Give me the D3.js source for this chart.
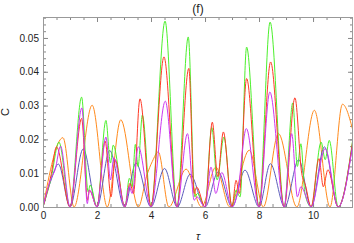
<!DOCTYPE html>
<html>
<head>
<meta charset="utf-8">
<script src="https://cdn.jsdelivr.net/npm/d3@7"></script>
<style>
  body { margin: 0; background: #fff; }
  svg { display: block; }
  text { font-family: "Liberation Sans", Arial, sans-serif; fill: #222; }
</style>
</head>
<body>
<svg width="354" height="243"></svg>
<script>
// Puntos: [tau, C]
const orange = [[0,0],[0.74,0.0205],[1.15,0],[1.82,0.0301],[2.38,0],[2.88,0.0258],[3.53,0],[3.85,0.0095],[4.05,0.0135],[4.27,0.0163],[4.66,0],[5.3,0.0112],[5.87,0],[6.4,0.0118],[6.92,0],[7.64,0.0168],[8.16,0],[8.72,0.0217],[9.4,0],[10.05,0.0286],[10.63,0],[11.09,0.0304],[11.48,0.0225]];
const blue = [[0,0],[0.3,0.008],[0.57,0.0127],[1.0,0],[1.49,0.0172],[2.0,0],[2.47,0.0167],[3.02,0],[3.44,0.013],[4.0,0],[4.5,0.0114],[4.97,0],[5.45,0.0097],[6.0,0],[6.49,0.0104],[7.0,0],[7.48,0.0109],[8.0,0],[8.42,0.0128],[8.95,0],[9.47,0.014],[9.93,0],[10.42,0.0178],[10.93,0],[11.48,0.0195]];
const green = [[0,0],[0.3,0.0085],[0.59,0.0192],[1.0,0],[1.43,0.0325],[1.67,0.0045],[1.75,0.0065],[2.0,0],[2.33,0.0256],[2.5,0.013],[2.6,0.0183],[3.03,0],[3.2,0.0085],[3.3,0.006],[3.42,0.0185],[3.52,0.012],[3.68,0.0272],[4.0,0],[4.52,0.055],[4.96,0],[5.38,0.0503],[5.62,0.003],[5.72,0.004],[6.0,0],[6.25,0.0235],[6.45,0.008],[6.7,0.0207],[7.0,0],[7.15,0.005],[7.3,0.003],[7.54,0.0473],[8.0,0],[8.41,0.0547],[8.93,0],[9.25,0.0308],[9.42,0.012],[9.55,0.0187],[9.7,0.004],[9.93,0],[10.3,0.0192],[10.45,0.014],[10.6,0.0197],[10.93,0],[11.48,0.0205]];
const red = [[0,0],[0.3,0.0095],[0.5,0.0178],[1.0,0],[1.43,0.0262],[1.65,0.002],[1.72,0.005],[2.0,0],[2.3,0.0195],[2.52,0.003],[2.67,0.014],[3.03,0],[3.22,0.007],[3.35,0.004],[3.59,0.032],[4.0,0],[4.48,0.0444],[4.96,0],[5.4,0.041],[5.6,0.004],[5.69,0.0059],[6.0,0],[6.27,0.0251],[6.47,0.009],[6.68,0.0222],[7.0,0],[7.15,0.0079],[7.27,0.004],[7.54,0.038],[8.0,0],[8.43,0.0429],[8.93,0],[9.33,0.0323],[9.58,0.01],[9.72,0.0064],[9.93,0],[10.22,0.0143],[10.38,0.006],[10.55,0.011],[10.93,0],[11.48,0.02]];
const magenta = [[0,0],[0.3,0.0085],[0.45,0.011],[0.65,0.018],[1.0,0],[1.44,0.0293],[1.64,0.001],[1.72,0.005],[2.0,0],[2.33,0.0207],[2.5,0.008],[2.62,0.0145],[3.03,0],[3.2,0.006],[3.3,0.004],[3.53,0.0178],[4.0,0],[4.53,0.0313],[4.96,0],[5.35,0.0217],[5.6,0.002],[5.7,0.003],[6.0,0],[6.22,0.0118],[6.4,0.004],[6.62,0.0102],[7.0,0],[7.2,0.004],[7.53,0.0232],[8.0,0],[8.4,0.034],[8.93,0],[9.21,0.0217],[9.42,0.003],[9.55,0.006],[9.93,0],[10.45,0.0173],[10.93,0],[11.48,0.019]];

const xMajor = [0, 2, 4, 6, 8, 10];
const yMajor = [0, 0.01, 0.02, 0.03, 0.04, 0.05];

const svg = d3.select("svg");
const mLeft = 43, mRight = 353, mTop = 17, mBottom = 207;

const x = d3.scaleLinear().domain([0, 11.48]).range([mLeft, mRight]);
const y = d3.scaleLinear().domain([0, 0.0562]).range([mBottom, mTop]);

// ticks (hacia adentro en los cuatro lados)
function styleAxis(g) {
  g.select(".domain").remove();
  g.selectAll("line").attr("stroke", "#888");
  g.selectAll("text").attr("font-size", 10).attr("fill", "#222");
}
const xMinor = d3.range(0, 11.5, 0.5);
const yMinor = d3.range(0, 0.0561, 0.002);

svg.append("g").attr("transform", `translate(0,${mBottom})`)
  .call(d3.axisBottom(x).tickValues(xMinor).tickSize(-3).tickFormat("")).call(styleAxis);
svg.append("g").attr("transform", `translate(0,${mBottom})`)
  .call(d3.axisBottom(x).tickValues(xMajor).tickSize(-5).tickPadding(5).tickFormat(d3.format("d"))).call(styleAxis);
svg.append("g").attr("transform", `translate(0,${mTop})`)
  .call(d3.axisTop(x).tickValues(xMinor).tickSize(-3).tickFormat("")).call(styleAxis);
svg.append("g").attr("transform", `translate(0,${mTop})`)
  .call(d3.axisTop(x).tickValues(xMajor).tickSize(-5).tickFormat("")).call(styleAxis);

svg.append("g").attr("transform", `translate(${mLeft},0)`)
  .call(d3.axisLeft(y).tickValues(yMinor).tickSize(-3).tickFormat("")).call(styleAxis);
svg.append("g").attr("transform", `translate(${mLeft},0)`)
  .call(d3.axisLeft(y).tickValues(yMajor).tickSize(-5).tickPadding(4).tickFormat(d3.format(".2f"))).call(styleAxis);
svg.append("g").attr("transform", `translate(${mRight},0)`)
  .call(d3.axisRight(y).tickValues(yMinor).tickSize(-3).tickFormat("")).call(styleAxis);
svg.append("g").attr("transform", `translate(${mRight},0)`)
  .call(d3.axisRight(y).tickValues(yMajor).tickSize(-5).tickFormat("")).call(styleAxis);

// curvas
svg.append("clipPath").attr("id", "clip")
  .append("rect").attr("x", mLeft).attr("y", mTop).attr("width", mRight - mLeft).attr("height", mBottom - mTop);

const line = d3.line()
  .x(d => x(d[0]))
  .y(d => y(d[1]))
  .curve(d3.curveMonotoneX);

const series = [
  { data: orange, color: "#ff8a1c" },
  { data: blue, color: "#5c5cbc" },
  { data: green, color: "#4cf02c" },
  { data: red, color: "#ff3a26" },
  { data: magenta, color: "#cc38f0" }
];

svg.append("g").attr("clip-path", "url(#clip)")
  .selectAll("path")
  .data(series)
  .enter().append("path")
  .attr("d", d => line(d.data))
  .attr("fill", "none")
  .attr("stroke", d => d.color)
  .attr("stroke-width", 1);

// marco
svg.append("rect")
  .attr("x", mLeft + 0.5).attr("y", mTop + 0.5)
  .attr("width", mRight - mLeft - 1).attr("height", mBottom - mTop)
  .attr("fill", "none").attr("stroke", "#999");

// textos
svg.append("text").attr("x", (mLeft + mRight) / 2).attr("y", 13)
  .attr("text-anchor", "middle").attr("font-size", 12).text("(f)");
svg.append("text").attr("x", (mLeft + mRight) / 2).attr("y", 240)
  .attr("text-anchor", "middle").attr("font-size", 11).attr("font-style", "italic").text("τ");
svg.append("text").attr("transform", "translate(9,112) rotate(-90)")
  .attr("text-anchor", "middle").attr("font-size", 11).text("C");
</script>
</body>
</html>
